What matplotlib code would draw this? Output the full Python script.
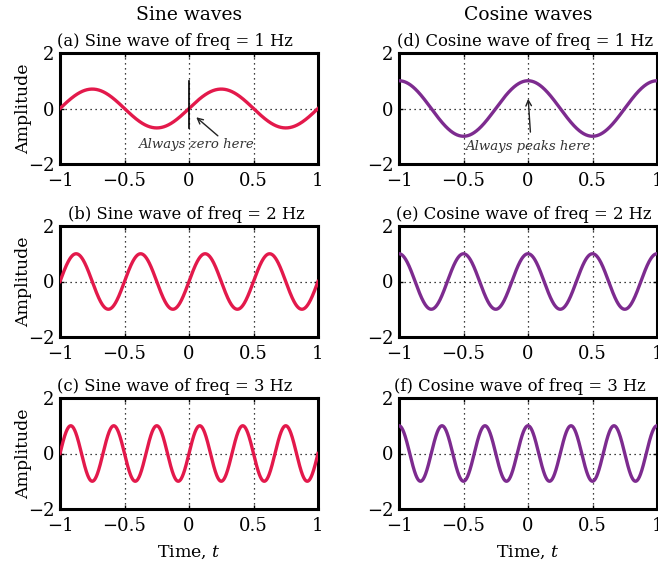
import numpy as np
import matplotlib
matplotlib.use("Agg")
import matplotlib.pyplot as plt

# ---- data ----
frequencies = [1, 2, 3]                 # Hz
sine_amplitudes = [0.7, 1.0, 1.0]
cosine_amplitudes = [1.0, 1.0, 1.0]
sine_labels = ["(a)", "(b)", "(c)"]
cosine_labels = ["(d)", "(e)", "(f)"]
x_ticks = [-1, -0.5, 0, 0.5, 1]
x_tick_labels = ["\u22121", "\u22120.5", "0", "0.5", "1"]
y_ticks = [-2, 0, 2]
y_tick_labels = ["\u22122", "0", "2"]
t = np.linspace(-1, 1, 1001)

plt.rcParams['font.family'] = ['DejaVu Serif']
plt.rcParams['mathtext.fontset'] = 'dejavuserif'

SINE_COLOR = "#E3194B"
COS_COLOR = "#7D2B8F"

fig = plt.figure(figsize=(6.58, 5.66), dpi=100)
W, H = 658, 566
lefts = [60, 399]
width = 258
tops = [53, 226, 398]
height = 111
sine_title_x = [0.446, 0.488, 0.446]
cos_title_x = [0.488, 0.483, 0.469]

axes = [[None, None] for _ in range(3)]
for r in range(3):
    for c in range(2):
        ax = fig.add_axes([lefts[c] / W, 1 - (tops[r] + height) / H, width / W, height / H])
        axes[r][c] = ax

def style(ax):
    ax.set_xlim(-1, 1)
    ax.set_ylim(-2, 2)
    ax.set_xticks(x_ticks)
    ax.set_xticklabels(x_tick_labels)
    ax.set_yticks(y_ticks)
    ax.set_yticklabels(y_tick_labels)
    ax.tick_params(direction='in', top=True, right=True, length=3, width=1,
                   labelsize=13)
    ax.tick_params(axis='x', pad=6)
    ax.tick_params(axis='y', pad=4)
    for s in ax.spines.values():
        s.set_linewidth(2.2)
    for xv in [-0.5, 0, 0.5]:
        ax.axvline(xv, color='black', lw=0.9, ls=(0, (1, 3)), zorder=1)
    ax.axhline(0, color='black', lw=0.9, ls=(0, (1, 3)), zorder=1)

for r in range(3):
    f = frequencies[r]
    ax = axes[r][0]
    style(ax)
    ax.plot(t, sine_amplitudes[r] * np.sin(2 * np.pi * f * t), color=SINE_COLOR, lw=2.4, zorder=3)
    ax.set_title(f"{sine_labels[r]} Sine wave of freq = {f} Hz", fontsize=11.8, pad=5,
                 x=sine_title_x[r])
    ax.set_ylabel("Amplitude", fontsize=12.5, labelpad=-3)

    ax = axes[r][1]
    style(ax)
    ax.plot(t, cosine_amplitudes[r] * np.cos(2 * np.pi * f * t), color=COS_COLOR, lw=2.4, zorder=3)
    ax.set_title(f"{cosine_labels[r]} Cosine wave of freq = {f} Hz", fontsize=11.8, pad=5,
                 x=cos_title_x[r])

axes[2][0].set_xlabel("Time, $t$", fontsize=12.5, labelpad=6)
axes[2][1].set_xlabel("Time, $t$", fontsize=12.5, labelpad=6)

# annotations
ax = axes[0][0]
ax.plot([0, 0], [-0.7, 1.0], color='black', lw=1.2, zorder=4)
ax.annotate("", xy=(0.04, -0.25), xytext=(0.24, -1.05),
            arrowprops=dict(arrowstyle='->', color='#222222', lw=1.0), zorder=5)
ax.text(0.05, -1.28, "Always zero here", ha='center', va='center',
        style='italic', fontsize=9.5, color='#333333', zorder=5)

ax = axes[0][1]
ax.annotate("", xy=(0.0, 0.45), xytext=(0.02, -0.95),
            arrowprops=dict(arrowstyle='->', color='#222222', lw=1.0), zorder=5)
ax.text(0.0, -1.38, "Always peaks here", ha='center', va='center',
        style='italic', fontsize=9.5, color='#333333', zorder=5)

# column headers
fig.text((lefts[0] + width / 2) / W, 1 - 15 / H, "Sine waves", ha='center', va='center', fontsize=13.5)
fig.text((lefts[1] + width / 2) / W, 1 - 15 / H, "Cosine waves", ha='center', va='center', fontsize=13.5)

fig.savefig("out.png", dpi=100)
